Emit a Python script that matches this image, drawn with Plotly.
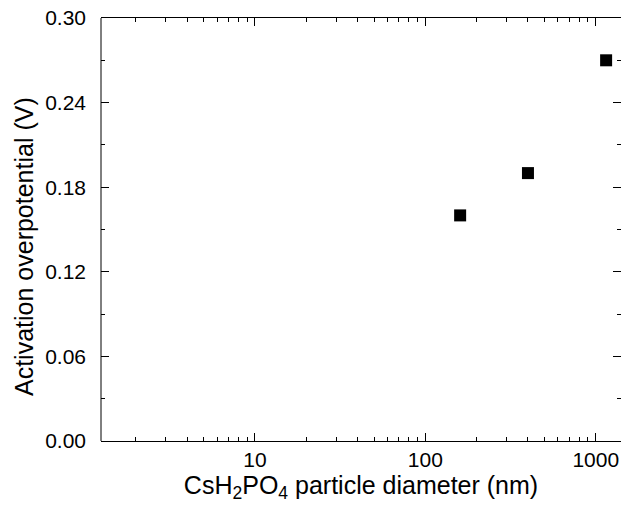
import plotly.graph_objects as go

diameter_nm = [160, 400, 1150]
overpotential_V = [0.160, 0.190, 0.270]
y_tick_vals = [0.00, 0.06, 0.12, 0.18, 0.24, 0.30]
y_tick_text = ["0.00", "0.06", "0.12", "0.18", "0.24", "0.30"]
x_title = "CsH<sub>2</sub>PO<sub>4</sub> particle diameter (nm)"
y_title = "Activation overpotential (V)"

W, H = 621, 520
L, R, T, B = 101, 0, 18, 79

fig = go.Figure()
fig.add_trace(go.Scatter(
    x=diameter_nm, y=overpotential_V, mode="markers",
    marker=dict(symbol="square", size=12, color="black", line=dict(width=0)),
    showlegend=False,
))

font = dict(family="Liberation Sans, Arial, sans-serif", color="black")

fig.update_layout(
    width=W, height=H,
    margin=dict(l=L, r=R, t=T, b=B, pad=0),
    paper_bgcolor="white", plot_bgcolor="white",
    font=dict(**font, size=21),
    xaxis=dict(
        type="log", range=[0.0968, 3.148],
        tickvals=[10, 100, 1000], ticktext=["10", "100", "1000"],
        ticks="inside", ticklen=8, tickwidth=1, tickcolor="black",
        showline=True, linecolor="black", linewidth=1, mirror="ticks",
        showgrid=False, zeroline=False,
        minor=dict(ticks="inside", ticklen=4, tickwidth=1, tickcolor="black",
                   dtick="D1", showgrid=False),
        tickfont=dict(size=21),
        title=dict(text=x_title, font=dict(size=25), standoff=6),
    ),
    yaxis=dict(
        range=[0, 0.30],
        tickvals=y_tick_vals, ticktext=y_tick_text,
        ticks="inside", ticklen=8, tickwidth=1, tickcolor="black",
        showline=False, mirror="ticks",
        showgrid=False, zeroline=False,
        minor=dict(ticks="inside", ticklen=4, tickwidth=1, tickcolor="black",
                   dtick=0.03, showgrid=False),
        tickfont=dict(size=21),
        ticklabelstandoff=14,
    ),
    annotations=[dict(
        text=y_title, textangle=-90, showarrow=False,
        xref="paper", yref="paper", x=-(L - 24) / (W - L - R), y=(441 - 247) / 423,
        xanchor="center", yanchor="middle", font=dict(size=25),
    )],
)

fig.add_shape(type="line", xref="paper", yref="paper", x0=0, x1=0, y0=0, y1=1,
              line=dict(color="black", width=1), layer="above")

fig.write_html("out.html")
